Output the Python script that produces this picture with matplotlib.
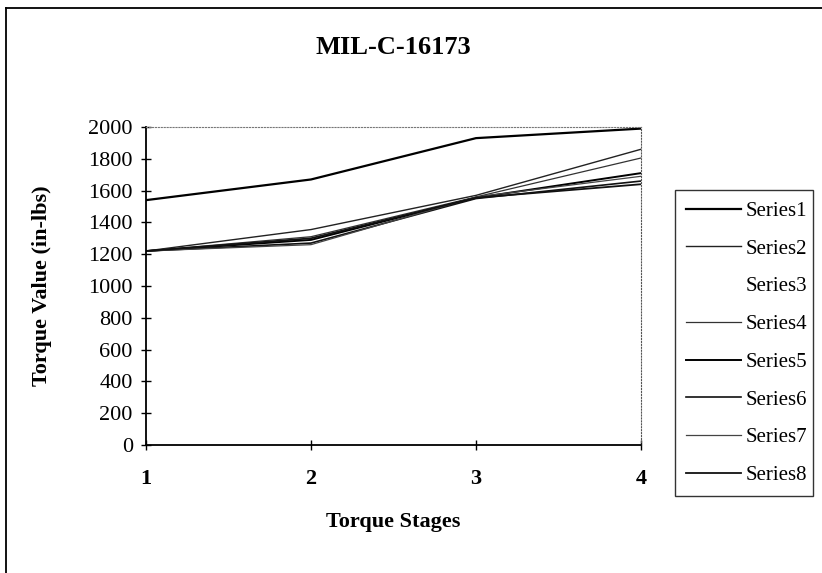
import matplotlib.pyplot as plt
from matplotlib.lines import Line2D

plt.rcParams['font.family'] = ['Liberation Serif', 'DejaVu Serif']

# data
stages = [1, 2, 3, 4]
series = {
    'Series1': [1540, 1670, 1930, 1990],
    'Series2': [1220, 1355, 1570, 1860],
    'Series3': [1220, 1300, 1560, 1680],
    'Series4': [1220, 1310, 1560, 1805],
    'Series5': [1220, 1290, 1555, 1710],
    'Series6': [1220, 1270, 1550, 1660],
    'Series7': [1220, 1260, 1560, 1690],
    'Series8': [1220, 1300, 1555, 1640],
}
colors = ['black', '#222222', 'white', '#333333', 'black', '#111111', '#444444', '#111111']
widths = [1.6, 1.0, 1.0, 0.9, 1.4, 1.2, 0.9, 1.3]

fig = plt.figure(figsize=(8.22, 5.73), dpi=100)
ax = fig.add_axes([146/822, 1 - 445/573, (641-146)/822, (445-127)/573])

for (name, vals), c, w in zip(series.items(), colors, widths):
    ax.plot(stages, vals, color=c, lw=w, label=name)

ax.set_xlim(1, 4)
ax.set_ylim(0, 2000)
ax.set_xticks(stages)
ax.set_yticks(range(0, 2001, 200))
ax.tick_params(direction='inout', length=7, width=1, labelsize=16)
ax.tick_params(axis='x', pad=14)
ax.tick_params(axis='y', pad=6)
for lbl in ax.get_xticklabels():
    lbl.set_fontweight('bold')
ax.spines['left'].set_linewidth(1.3)
ax.spines['bottom'].set_linewidth(1.3)
ax.spines['top'].set_linestyle(':')
ax.spines['top'].set_color('#777777')
ax.spines['right'].set_linestyle(':')
ax.spines['right'].set_color('#555555')

ax.set_xlabel('Torque Stages', fontsize=16, fontweight='bold', labelpad=16)
ax.set_ylabel('Torque Value (in-lbs)', fontsize=16, fontweight='bold', labelpad=26)
fig.text(393/822, 1 - 48/573, 'MIL-C-16173', ha='center', va='center',
         fontsize=19, fontweight='bold')

leg = ax.legend(loc='upper left', bbox_to_anchor=(675/822, 1 - 495/573, 138/822, 305/573),
                bbox_transform=fig.transFigure, mode='expand', borderaxespad=0,
                frameon=True, fancybox=False, edgecolor='black', fontsize=15,
                handlelength=2.6, labelspacing=0.87, borderpad=0.55, handletextpad=0.25)
leg.get_frame().set_linewidth(1.0)

# outer frame: only top and left edges are visible in the scan
fig.add_artist(Line2D([6/822, 1], [1 - 8/573, 1 - 8/573], transform=fig.transFigure,
                      color='black', lw=1.3))
fig.add_artist(Line2D([6/822, 6/822], [0, 1 - 8/573], transform=fig.transFigure,
                      color='black', lw=1.3))

fig.savefig('out.png', dpi=100)
